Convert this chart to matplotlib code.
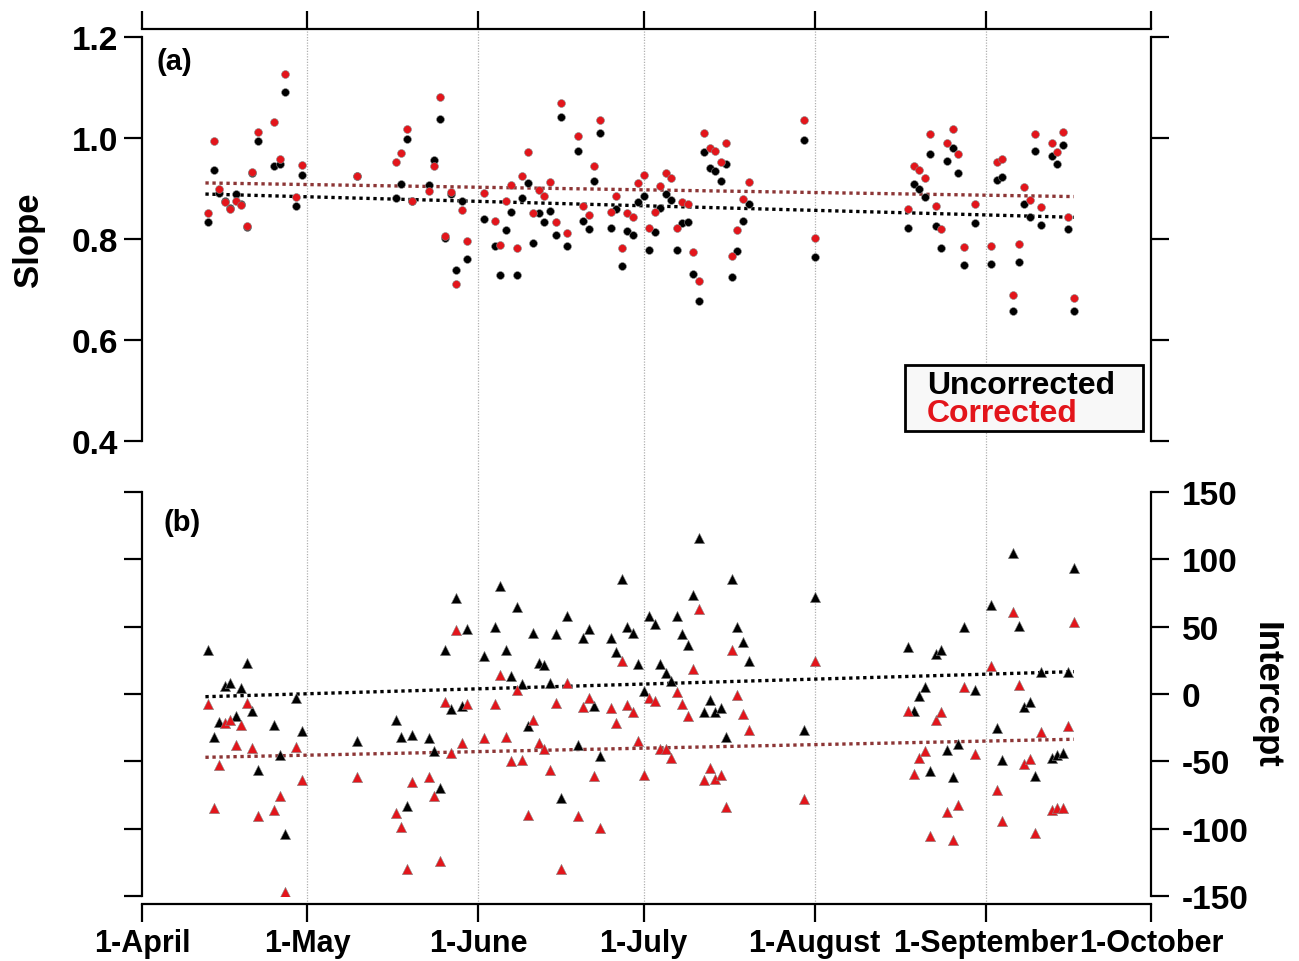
import pandas as pd
import matplotlib
matplotlib.use("Agg")
import matplotlib.pyplot as plt
from matplotlib.patches import Rectangle

plt.rcParams["font.family"] = ["Liberation Sans", "DejaVu Sans"]
plt.rcParams["font.weight"] = "bold"
plt.rcParams["axes.unicode_minus"] = False

# days after 1-April
days = [12, 13, 14, 15, 16, 17, 18, 19, 20, 21,
        24, 25, 26, 28, 29, 39, 46, 47, 48, 49,
        52, 53, 54, 55, 56, 57, 58, 59, 62, 64,
        65, 66, 67, 68, 69, 70, 71, 72, 73, 74,
        75, 76, 77, 79, 80, 81, 82, 83, 85, 86,
        87, 88, 89, 90, 91, 92, 93, 94, 95, 96,
        97, 98, 99, 100, 101, 102, 103, 104, 105, 106,
        107, 108, 109, 110, 120, 122, 139, 140, 141, 142,
        143, 144, 145, 146, 147, 148, 149, 151, 154, 155,
        156, 158, 159, 160, 161, 162, 163, 165, 166, 167, 168, 169]

slope_unc = [0.834, 0.937, 0.892, 0.875, 0.862, 0.890, 0.869, 0.823, 0.930, 0.995,
             0.944, 0.949, 1.092, 0.866, 0.927, 0.924, 0.882, 0.909, 0.998, 0.876,
             0.906, 0.956, 1.038, 0.801, 0.890, 0.739, 0.875, 0.760, 0.840, 0.787,
             0.729, 0.818, 0.853, 0.729, 0.882, 0.911, 0.793, 0.851, 0.833, 0.855,
             0.807, 1.042, 0.786, 0.975, 0.835, 0.820, 0.915, 1.009, 0.821, 0.859,
             0.746, 0.815, 0.807, 0.874, 0.885, 0.779, 0.813, 0.861, 0.890, 0.878,
             0.779, 0.831, 0.833, 0.731, 0.677, 0.972, 0.941, 0.935, 0.914, 0.948,
             0.725, 0.777, 0.836, 0.870, 0.997, 0.764, 0.822, 0.908, 0.899, 0.883,
             0.968, 0.825, 0.782, 0.954, 0.980, 0.931, 0.749, 0.832, 0.750, 0.916,
             0.923, 0.657, 0.754, 0.869, 0.843, 0.974, 0.828, 0.965, 0.949, 0.986, 0.819, 0.658]

slope_cor = [0.852, 0.995, 0.900, 0.873, 0.860, 0.876, 0.867, 0.826, 0.932, 1.012,
             1.032, 0.958, 1.127, 0.883, 0.946, 0.924, 0.952, 0.970, 1.018, 0.876,
             0.896, 0.944, 1.081, 0.806, 0.894, 0.711, 0.857, 0.797, 0.891, 0.836,
             0.788, 0.875, 0.906, 0.782, 0.925, 0.973, 0.852, 0.898, 0.886, 0.913,
             0.833, 1.069, 0.811, 1.004, 0.865, 0.848, 0.945, 1.036, 0.853, 0.886,
             0.782, 0.851, 0.843, 0.910, 0.927, 0.822, 0.854, 0.904, 0.930, 0.921,
             0.822, 0.873, 0.869, 0.774, 0.717, 1.009, 0.981, 0.974, 0.953, 0.991,
             0.767, 0.817, 0.880, 0.913, 1.036, 0.802, 0.859, 0.944, 0.937, 0.921,
             1.007, 0.865, 0.819, 0.991, 1.018, 0.969, 0.784, 0.869, 0.787, 0.952,
             0.958, 0.690, 0.790, 0.903, 0.877, 1.007, 0.864, 0.990, 0.973, 1.011, 0.843, 0.683]

int_unc = [32.7, -32.2, -21.0, 6.2, 7.9, -16.6, 4.7, 23.0, -12.4, -56.2,
           -23.0, -45.3, -103.7, -3.2, -27.5, -34.6, -19.0, -31.7, -83.4, -30.4,
           -32.9, -42.3, -69.5, 32.7, -11.1, 71.3, -8.7, 48.5, 28.2, 49.5,
           80.4, 32.7, 13.4, 64.6, 7.6, -23.5, 45.3, 22.8, 21.5, 7.9,
           44.8, -77.2, 57.7, -37.6, 41.6, 48.3, -8.7, -46.0, 41.6, 31.0,
           85.4, 49.7, 45.3, 22.3, 2.2, 57.7, 52.0, 22.5, 15.6, 9.9,
           58.1, 44.8, 36.4, 73.5, 115.8, -13.1, -4.5, -13.1, -10.1, -32.2,
           85.4, 50.0, 38.4, 24.5, -26.7, 72.0, 34.6, -12.9, -1.2, 5.0,
           -57.4, 29.5, 32.7, -41.6, -61.6, -37.1, 50.0, 2.7, 66.3, -25.5,
           -48.8, 104.7, 50.3, -9.9, -5.7, -60.6, 16.6, -47.3, -45.1, -44.0, 16.6, 93.5]

int_cor = [-7.4, -84.4, -52.5, -21.5, -19.1, -37.6, -23.0, -6.7, -40.3, -90.3,
           -85.9, -75.5, -147.2, -39.1, -63.6, -61.6, -88.6, -98.7, -129.9, -65.6,
           -61.6, -75.5, -124.2, -5.7, -43.8, 47.5, -36.2, -7.4, -32.4, -7.4,
           13.9, -31.7, -49.5, 3.2, -48.8, -89.8, -19.3, -36.4, -40.8, -56.2,
           -6.7, -129.9, 7.9, -90.8, -9.4, -3.2, -61.1, -99.2, -10.1, -21.3,
           24.7, -8.2, -13.1, -34.6, -59.9, -3.2, -5.2, -40.8, -40.8, -47.3,
           1.7, -7.6, -16.1, 18.8, 63.3, -63.6, -54.7, -63.1, -60.1, -84.1,
           32.7, -0.7, -14.8, -26.7, -78.0, 24.5, -12.9, -59.4, -47.5, -42.1,
           -105.2, -19.3, -13.4, -87.4, -108.4, -82.4, 5.4, -44.5, 20.6, -71.0,
           -94.1, 60.9, 6.7, -52.2, -48.3, -103.4, -28.2, -86.1, -84.9, -84.4, -23.8, 53.7]

# trend lines (start / end values)
trend_days = [11.5, 169]
slope_trend_unc = [0.889, 0.843]
slope_trend_cor = [0.911, 0.884]
int_trend_unc = [-2.0, 16.6]
int_trend_cor = [-47.0, -33.6]

month_labels = ["1-April", "1-May", "1-June", "1-July", "1-August", "1-September", "1-October"]

start = pd.Timestamp("2019-04-01")
dates = start + pd.to_timedelta(days, unit="D")
tdates = start + pd.to_timedelta(trend_days, unit="D")
month_ticks = pd.date_range("2019-04-01", "2019-10-01", freq="MS")
xlim = (month_ticks[0], month_ticks[-1])

RED = "#e3151b"
DARKRED = "#8c3535"
FS = 22
YFS = 24

fig = plt.figure(figsize=(12.99, 9.62), dpi=100)
W, H = 1299, 962
left, width = 142 / W, 1009 / W

# background axes carrying the vertical month grid across both panels
bg = fig.add_axes([left, 1 - 905 / H, width, (905 - 30) / H], zorder=0)
bg.set_xlim(xlim)
bg.axis("off")
for m in month_ticks[1:-1]:
    bg.axvline(m, color="#b0b0b0", lw=0.9, ls=(0, (1, 1.2)))

ax1 = fig.add_axes([left, 1 - 442 / H, width, 404 / H], zorder=1)
ax2 = fig.add_axes([left, 1 - 897 / H, width, 404 / H], zorder=1)
for ax in (ax1, ax2):
    ax.set_facecolor("none")
    ax.set_xlim(xlim)
    for s in ax.spines.values():
        s.set_linewidth(1.6)

# ---- (a) slope ----
ax1.plot(tdates, slope_trend_unc, color="black", lw=2.4, ls=(0, (1, 1.1)), zorder=2)
ax1.plot(tdates, slope_trend_cor, color=DARKRED, lw=2.4, ls=(0, (1, 1.1)), zorder=2)
ax1.scatter(dates, slope_unc, s=32, color="black", edgecolor="#888888", linewidth=0.4, zorder=3)
ax1.scatter(dates, slope_cor, s=32, color=RED, edgecolor="#888888", linewidth=0.4, zorder=4)
ax1.set_ylim(0.4, 1.2)
ax1.set_yticks([0.4, 0.6, 0.8, 1.0, 1.2])
ax1.set_yticklabels(["0.4", "0.6", "0.8", "1.0", "1.2"])
ax1.spines["bottom"].set_visible(False)
ax1.spines["top"].set_position(("outward", 6))
ax1.xaxis.tick_top()
ax1.set_xticks(month_ticks)
ax1.tick_params(axis="x", direction="out", length=13, width=1.6, labeltop=False)
ax1.tick_params(axis="y", direction="out", length=13, width=1.6, left=True, right=True,
                labelleft=True, labelright=False, labelsize=YFS, pad=4)
for t in ax1.get_yticklabels():
    t.set_fontweight("bold")
ax1.set_ylabel("Slope", fontsize=25, fontweight="bold")
ax1.yaxis.set_label_coords(-0.096, 0.5)
ax1.text(0.014, 0.975, "(a)", transform=ax1.transAxes, fontsize=21, fontweight="bold", va="top")

# ---- (b) intercept ----
ax2.plot(tdates, int_trend_unc, color="black", lw=2.4, ls=(0, (1, 1.1)), zorder=2)
ax2.plot(tdates, int_trend_cor, color=DARKRED, lw=2.4, ls=(0, (1, 1.1)), zorder=2)
ax2.scatter(dates, int_unc, s=55, marker="^", color="black", edgecolor="#888888", linewidth=0.4, zorder=3)
ax2.scatter(dates, int_cor, s=55, marker="^", color=RED, edgecolor="#888888", linewidth=0.4, zorder=4)
ax2.set_ylim(-150, 150)
ax2.set_yticks([-150, -100, -50, 0, 50, 100, 150])
ax2.spines["top"].set_visible(False)
ax2.spines["bottom"].set_position(("outward", 6))
ax2.set_xticks(month_ticks)
ax2.set_xticklabels(month_labels, fontsize=FS, fontweight="bold")
ax2.tick_params(axis="x", direction="out", length=13, width=1.6, pad=4)
ax2.tick_params(axis="y", direction="out", length=13, width=1.6, left=True, right=True,
                labelleft=False, labelright=True, labelsize=YFS, pad=9)
for t in ax2.get_yticklabels():
    t.set_fontweight("bold")
ax2.yaxis.set_label_position("right")
ax2.set_ylabel("Intercept", fontsize=25, fontweight="bold", rotation=270)
ax2.yaxis.set_label_coords(1.13, 0.5)
ax2.text(0.021, 0.96, "(b)", transform=ax2.transAxes, fontsize=21, fontweight="bold", va="top")

# ---- legend box ----
fig.patches.append(Rectangle((905 / W, 1 - 432 / H), 238 / W, 66 / H, transform=fig.transFigure,
                             facecolor="#f8f8f8", edgecolor="black", linewidth=2, zorder=5))
fig.text(927 / W, 1 - 394 / H, "Uncorrected", fontsize=23, fontweight="bold", color="black",
         va="baseline", ha="left", zorder=6)
fig.text(927 / W, 1 - 422 / H, "Corrected", fontsize=23, fontweight="bold", color=RED,
         va="baseline", ha="left", zorder=6)

fig.savefig("out.png", dpi=100)
